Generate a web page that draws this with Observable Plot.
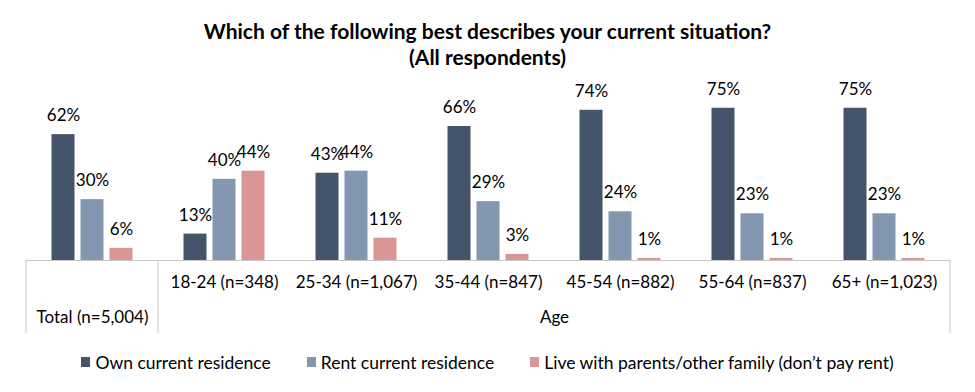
<!DOCTYPE html>
<html><head><meta charset="utf-8">
<script src="https://cdn.jsdelivr.net/npm/d3@7"></script>
<script src="https://cdn.jsdelivr.net/npm/@observablehq/plot@0.6"></script>
<style>
body{margin:0;background:#fff;font-family:Lato,sans-serif;color:#000}
#title{width:975px;text-align:center;font-weight:bold;font-size:21px;line-height:26px;padding-top:18px;height:52px}
#chart svg{display:block}
#legend{width:975px;display:flex;justify-content:center;align-items:center;font-size:17.5px;margin-top:9px;height:20px}
.item{display:flex;align-items:center;margin:0 18px}
.sw{width:9px;height:10px;margin-right:5px}
</style></head><body>
<div id="title">Which of the following best describes your current situation?<br>(All respondents)</div>
<div id="chart"></div>
<div id="legend"></div>
<script>
const groups = ["Total (n=5,004)", "18-24 (n=348)", "25-34 (n=1,067)", "35-44 (n=847)", "45-54 (n=882)", "55-64 (n=837)", "65+ (n=1,023)"];
const series = ["Own current residence", "Rent current residence", "Live with parents/other family (don’t pay rent)"];
const own = [62, 13, 43, 66, 74, 75, 75];
const rent = [30, 40, 44, 29, 24, 23, 23];
const parents = [6, 44, 11, 3, 1, 1, 1];
const colors = ["#44546a", "#8497b0", "#d99694"];
const ageLabel = "Age";

const values = [own, rent, parents];
const data = groups.flatMap((g, i) => series.map((s, j) => ({group: g, series: s, value: values[j][i]})));
const grid = "#c8c8c8";

const plot = Plot.plot({
  width: 975, height: 273,
  marginLeft: 22.5, marginRight: 22.5, marginTop: 27.6, marginBottom: 83,
  style: {fontFamily: "Lato, sans-serif", fontSize: "17px", color: "#000", background: "#fff"},
  fx: {domain: groups, padding: 0, axis: null},
  x: {domain: series, paddingInner: 0.22, paddingOuter: 0.864, axis: null},
  y: {domain: [0, 80], axis: null},
  color: {domain: series, range: colors},
  marks: [
    Plot.barY(data, {fx: "group", x: "series", y: "value", fill: "series"}),
    Plot.ruleY([0], {stroke: grid}),
    Plot.text(data, {fx: "group", x: "series", y: "value", text: d => d.value + "%", dy: -19}),
    Plot.text(groups.slice(1), {fx: d => d, text: d => d, frameAnchor: "bottom", dy: 27}),
    Plot.text([groups[0]], {fx: d => d, text: d => d, frameAnchor: "bottom", dy: 62}),
    Plot.text([ageLabel], {fx: () => groups[4], text: d => d, frameAnchor: "bottom-left", textAnchor: "middle", dy: 62})
  ]
});
document.getElementById("chart").appendChild(plot);

// table cell borders, positioned from the plot's own scales
const fx = plot.scale("fx"), y = plot.scale("y");
const y0 = y.apply(0);
const xs = [fx.apply(groups[0]), fx.apply(groups[1]), fx.apply(groups[groups.length - 1]) + fx.bandwidth];
d3.select(plot).append("g").attr("stroke", grid).selectAll("line").data(xs).join("line")
  .attr("x1", d => d).attr("x2", d => d).attr("y1", y0).attr("y2", y0 + 73);

const legend = d3.select("#legend");
series.forEach((s, i) => {
  const it = legend.append("div").attr("class", "item");
  it.append("div").attr("class", "sw").style("background", colors[i]);
  it.append("span").text(s);
});
</script>
</body></html>
